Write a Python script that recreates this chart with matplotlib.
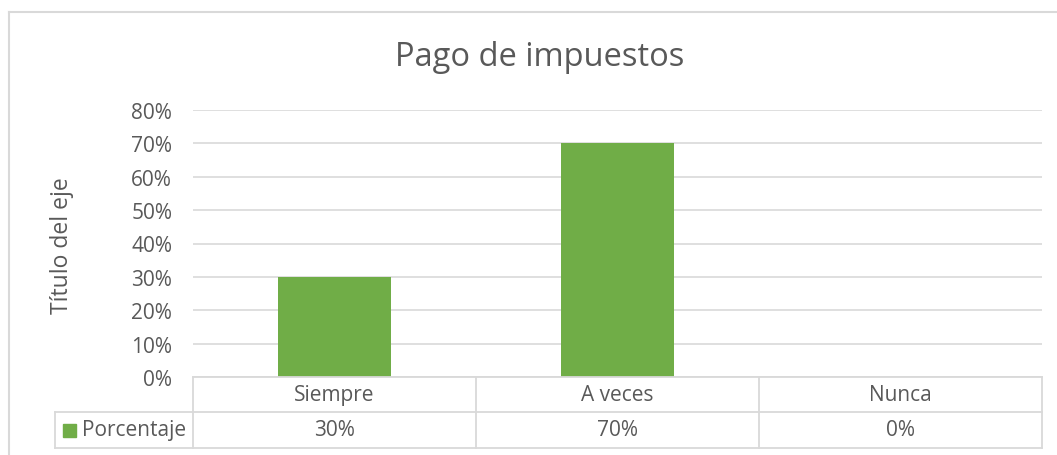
import numpy as np
import matplotlib.pyplot as plt
from matplotlib.ticker import PercentFormatter
from matplotlib.lines import Line2D
from matplotlib.patches import Rectangle

# data
categories = ['Siempre', 'A veces', 'Nunca']
values = [30, 70, 0]
series_name = 'Porcentaje'
table_labels = ['30%', '70%', '0%']
yticks = [0, 10, 20, 30, 40, 50, 60, 70, 80]

W, H = 1057, 456
bar_color = '#70ad47'
txt = '#595959'
grid_c = '#d9d9d9'
fs = 15

plt.rcParams['font.family'] = ['Open Sans', 'DejaVu Sans']

fig = plt.figure(figsize=(W / 100, H / 100), dpi=100)

# plot area in pixels
left, right, top, bottom = 193, 1042, 111, 378
ax = fig.add_axes([left / W, 1 - bottom / H, (right - left) / W, (bottom - top) / H])

x = np.arange(len(categories))
ax.bar(x, values, width=0.4, color=bar_color, zorder=3)
ax.set_xlim(-0.5, len(categories) - 0.5)
ax.set_ylim(0, 80)
ax.set_yticks(yticks)
ax.yaxis.set_major_formatter(PercentFormatter(decimals=0))
ax.grid(axis='y', color=grid_c, linewidth=1.2, zorder=0)
ax.set_xticks([])
for s in ax.spines.values():
    s.set_visible(False)
ax.tick_params(axis='y', length=0, pad=15, labelsize=fs, labelcolor=txt)

def px(xp, yp):
    return xp / W, 1 - yp / H

fig.text(*px(62, 246), 'Título del eje', rotation=90, ha='center', va='center',
         fontsize=16.5, color=txt)
fig.text(*px(540, 57), 'Pago de impuestos', ha='center', va='center', fontsize=23.5, color=txt)

# data table below the plot
row1, row2, row3 = 378, 413, 449
cols = [193, 476, 759, 1042]
leg_left = 55
lw = 1.3

def hline(x0, x1, y):
    fig.add_artist(Line2D([x0 / W, x1 / W], [1 - y / H, 1 - y / H], color=grid_c, lw=lw))

def vline(xx, y0, y1):
    fig.add_artist(Line2D([xx / W, xx / W], [1 - y0 / H, 1 - y1 / H], color=grid_c, lw=lw))

hline(cols[0], cols[-1], row1)
hline(leg_left, cols[-1], row2)
hline(leg_left, cols[-1], row3)
for c in cols:
    vline(c, row1, row3)
vline(leg_left, row2, row3)

for i, cat in enumerate(categories):
    cx = (cols[i] + cols[i + 1]) / 2
    fig.text(*px(cx, (row1 + row2) / 2), cat, ha='center', va='center', fontsize=fs, color=txt)
    fig.text(*px(cx, (row2 + row3) / 2), table_labels[i], ha='center', va='center', fontsize=fs, color=txt)

# legend key
fig.add_artist(Rectangle(px(63, 438), 13 / W, 13 / H, color=bar_color))
fig.text(*px(82, (row2 + row3) / 2), series_name, ha='left', va='center', fontsize=fs, color=txt)

# chart area border (top and left visible)
fig.add_artist(Line2D([9 / W, 9 / W], [0, 1 - 13 / H], color=grid_c, lw=1.5))
fig.add_artist(Line2D([9 / W, 1], [1 - 13 / H, 1 - 13 / H], color=grid_c, lw=1.5))

fig.savefig('out.png', dpi=100)
